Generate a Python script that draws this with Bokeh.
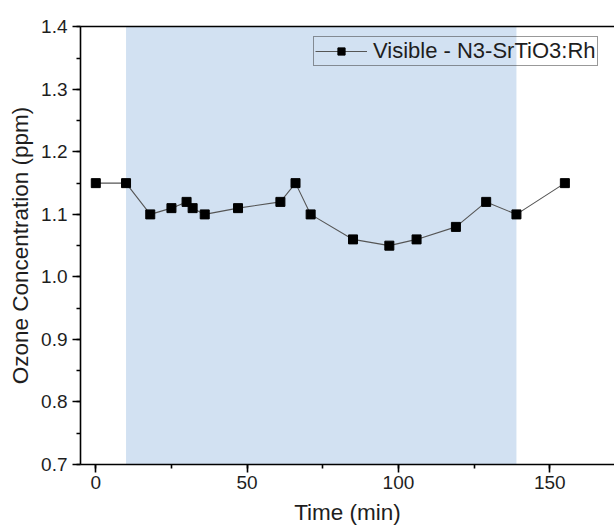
from bokeh.plotting import figure
from bokeh.models import (Range1d, BoxAnnotation, LinearAxis, SingleIntervalTicker,
                          Legend, LegendItem, PrintfTickFormatter, ColumnDataSource)
from bokeh.embed import file_html
from bokeh.resources import INLINE

# ---- data ----
time_min = [0, 10, 18, 25, 30, 32, 36, 47, 61, 66, 71, 85, 97, 106, 119, 129, 139, 155]
ozone_ppm = [1.15, 1.15, 1.10, 1.11, 1.12, 1.11, 1.10, 1.11, 1.12, 1.15, 1.10,
             1.06, 1.05, 1.06, 1.08, 1.12, 1.10, 1.15]
light_on_min = 10
light_off_min = 139
series_label = "Visible - N3-SrTiO3:Rh"
x_title = "Time (min)"
y_title = "Ozone Concentration (ppm)"

FONT = "Liberation Sans"
TXT = "#1e1e1e"

p = figure(width=614, height=532, output_backend="svg", toolbar_location=None,
           x_range=Range1d(-5.05, 171.4), y_range=Range1d(0.7, 1.4005),
           x_axis_type=None, y_axis_type=None,
           min_border_left=80, min_border_right=0, min_border_top=26, min_border_bottom=68)
p.outline_line_color = None
p.background_fill_color = "white"
p.border_fill_color = "white"
p.grid.visible = False

# shaded illumination period
p.add_layout(BoxAnnotation(left=light_on_min, right=light_off_min,
                           fill_color="#D2E1F2", fill_alpha=1.0, line_color=None, level="underlay"))

def style_axis(ax):
    ax.axis_line_color = "black"
    ax.axis_line_width = 1.6
    ax.major_tick_line_color = "black"
    ax.minor_tick_line_color = "black"
    ax.major_tick_line_width = 1.6
    ax.minor_tick_line_width = 1.6
    ax.major_tick_in = 0
    ax.minor_tick_in = 0
    ax.major_tick_out = 8
    ax.minor_tick_out = 4
    ax.major_label_text_font = FONT
    ax.major_label_text_font_size = "19px"
    ax.major_label_text_color = TXT
    ax.axis_label_text_font = FONT
    ax.axis_label_text_font_size = "22.5px"
    ax.axis_label_text_font_style = "normal"
    ax.axis_label_text_color = TXT

xaxis = LinearAxis(ticker=SingleIntervalTicker(interval=50, num_minor_ticks=2), axis_label=x_title)
style_axis(xaxis)
xaxis.major_label_standoff = 3
xaxis.axis_label_standoff = 8
p.add_layout(xaxis, "below")

yaxis = LinearAxis(ticker=SingleIntervalTicker(interval=0.1, num_minor_ticks=2), axis_label=y_title,
                   formatter=PrintfTickFormatter(format="%.1f"))
style_axis(yaxis)
yaxis.major_label_standoff = 5
yaxis.axis_label_standoff = 5
p.add_layout(yaxis, "left")

top = LinearAxis(ticker=SingleIntervalTicker(interval=50, num_minor_ticks=2))
top.axis_line_color = "black"
top.axis_line_width = 1.6
top.major_tick_out = 0
top.minor_tick_out = 0
top.major_tick_line_color = None
top.minor_tick_line_color = None
top.major_label_standoff = 0
top.major_label_text_font_size = "10px"
top.major_label_text_color = None
p.add_layout(top, "above")

src = ColumnDataSource(dict(t=time_min, o=ozone_ppm))
ln = p.line("t", "o", source=src, line_color="#555555", line_width=1.1)
sq = p.scatter("t", "o", source=src, marker="square", size=9, fill_color="black", line_color="black")

legend = Legend(items=[LegendItem(label=series_label, renderers=[ln, sq])],
                location=(233, 398), orientation="vertical")
legend.border_line_color = "#333333"
legend.border_line_width = 1
legend.background_fill_alpha = 0
legend.label_text_font = FONT
legend.label_text_font_size = "22px"
legend.label_text_color = TXT
legend.glyph_width = 52
legend.glyph_height = 18
legend.label_height = 18
legend.label_standoff = 6
legend.padding = 1
legend.margin = 0
p.add_layout(legend, "center")

open("out.html", "w").write(file_html(p, INLINE))
